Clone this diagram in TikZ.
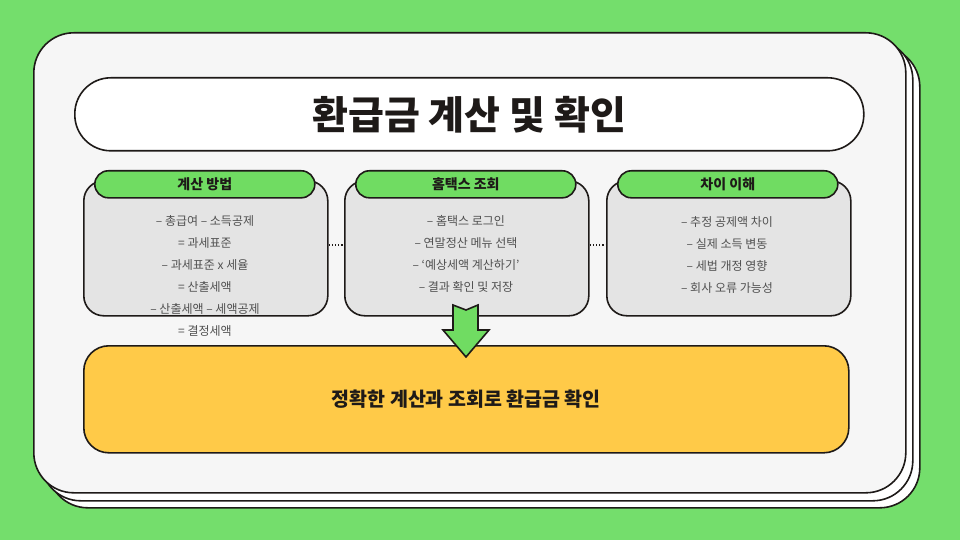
\documentclass[tikz,border=0pt]{standalone}
\usepackage{fontspec}
\setmainfont{Noto Sans CJK KR}
\newfontfamily\krblack{Noto Sans CJK KR Black}
\definecolor{bggreen}{RGB}{116,222,108}
\definecolor{hdgreen}{RGB}{112,220,98}
\definecolor{ink}{RGB}{30,26,24}
\definecolor{cardfill}{RGB}{246,246,246}
\definecolor{boxgray}{RGB}{228,228,228}
\definecolor{yel}{RGB}{255,202,72}
\definecolor{itemtxt}{RGB}{80,80,80}
\begin{document}
\begin{tikzpicture}[x=1pt,y=-1pt]
\tikzset{
  card/.style={draw=ink, line width=1.6pt, rounded corners=40pt, anchor=north west, inner sep=0pt},
  titlebox/.style={draw=ink, line width=1.6pt, fill=white, rounded corners=36pt, anchor=north west, inner sep=0pt},
  graybox/.style={draw=ink, line width=1.6pt, fill=boxgray, rounded corners=20pt, anchor=north west, inner sep=0pt, minimum width=244pt, minimum height=135pt},
  header/.style={draw=ink, line width=1.6pt, fill=hdgreen, rounded corners=13.5pt, anchor=north west, inner sep=0pt, minimum width=220pt, minimum height=27pt, font=\krblack\fontsize{14}{16}\selectfont, text=ink},
  items/.style={align=center, font=\fontsize{12}{22}\selectfont, text=itemtxt},
  dotline/.style={draw=ink, line width=1.2pt, dotted},
}
\path[fill=bggreen] (0,0) rectangle (960,540);
\useasboundingbox (0,0) rectangle (960,540);

% stacked cards
\node[card, fill=white, minimum width=872pt, minimum height=461pt] (back2) at (47,46) {};
\node[card, fill=white, minimum width=872pt, minimum height=461pt] (back1) at (40,39) {};
\node[card, fill=cardfill, minimum width=872pt, minimum height=460pt] (front) at (33,32) {};

% title
\node[titlebox, minimum width=789pt, minimum height=73pt] (title) at (74,77) {};
\node[font=\krblack\fontsize{39}{42}\selectfont, text=ink] (titletext) at (title.center) {환급금 계산 및 확인};

% gray boxes
\node[graybox] (b1) at (83,180) {};
\node[graybox] (b2) at (344,180) {};
\node[graybox] (b3) at (606,180) {};

% headers
\node[header] (h1) at (94,170) {계산 방법};
\node[header] (h2) at (355,170) {홈택스 조회};
\node[header] (h3) at (617,170) {차이 이해};

% items
\node[items] (t1) at (205,276) {– 총급여 – 소득공제\\= 과세표준\\– 과세표준 x 세율\\= 산출세액\\– 산출세액 – 세액공제\\= 결정세액};
\node[items] (t2) at (466,254) {– 홈택스 로그인\\– 연말정산 메뉴 선택\\– ‘예상세액 계산하기’\\– 결과 확인 및 저장};
\node[items] (t3) at (727,255) {– 추정 공제액 차이\\– 실제 소득 변동\\– 세법 개정 영향\\– 회사 오류 가능성};

% dotted connectors
\draw[dotline] (b1.east |- 0,245) -- (b2.west |- 0,245);
\draw[dotline] (b2.east |- 0,245) -- (b3.west |- 0,245);

% result box
\node[draw=ink, line width=1.6pt, fill=yel, rounded corners=25pt, anchor=north west, inner sep=0pt, minimum width=765pt, minimum height=107pt] (res) at (83,345) {};
\node[font=\bfseries\fontsize{19.5}{22}\selectfont, text=ink] (restext) at (res.center) {정확한 계산과 조회로 환급금 확인};

% block arrow
\draw[ink, line width=1.6pt, fill=hdgreen, line join=miter]
  (453,305) -- (466,310) -- (478,305) -- (478,330) -- (489,330) -- (466,357) -- (443,330) -- (453,330) -- cycle;
\end{tikzpicture}
\end{document}
